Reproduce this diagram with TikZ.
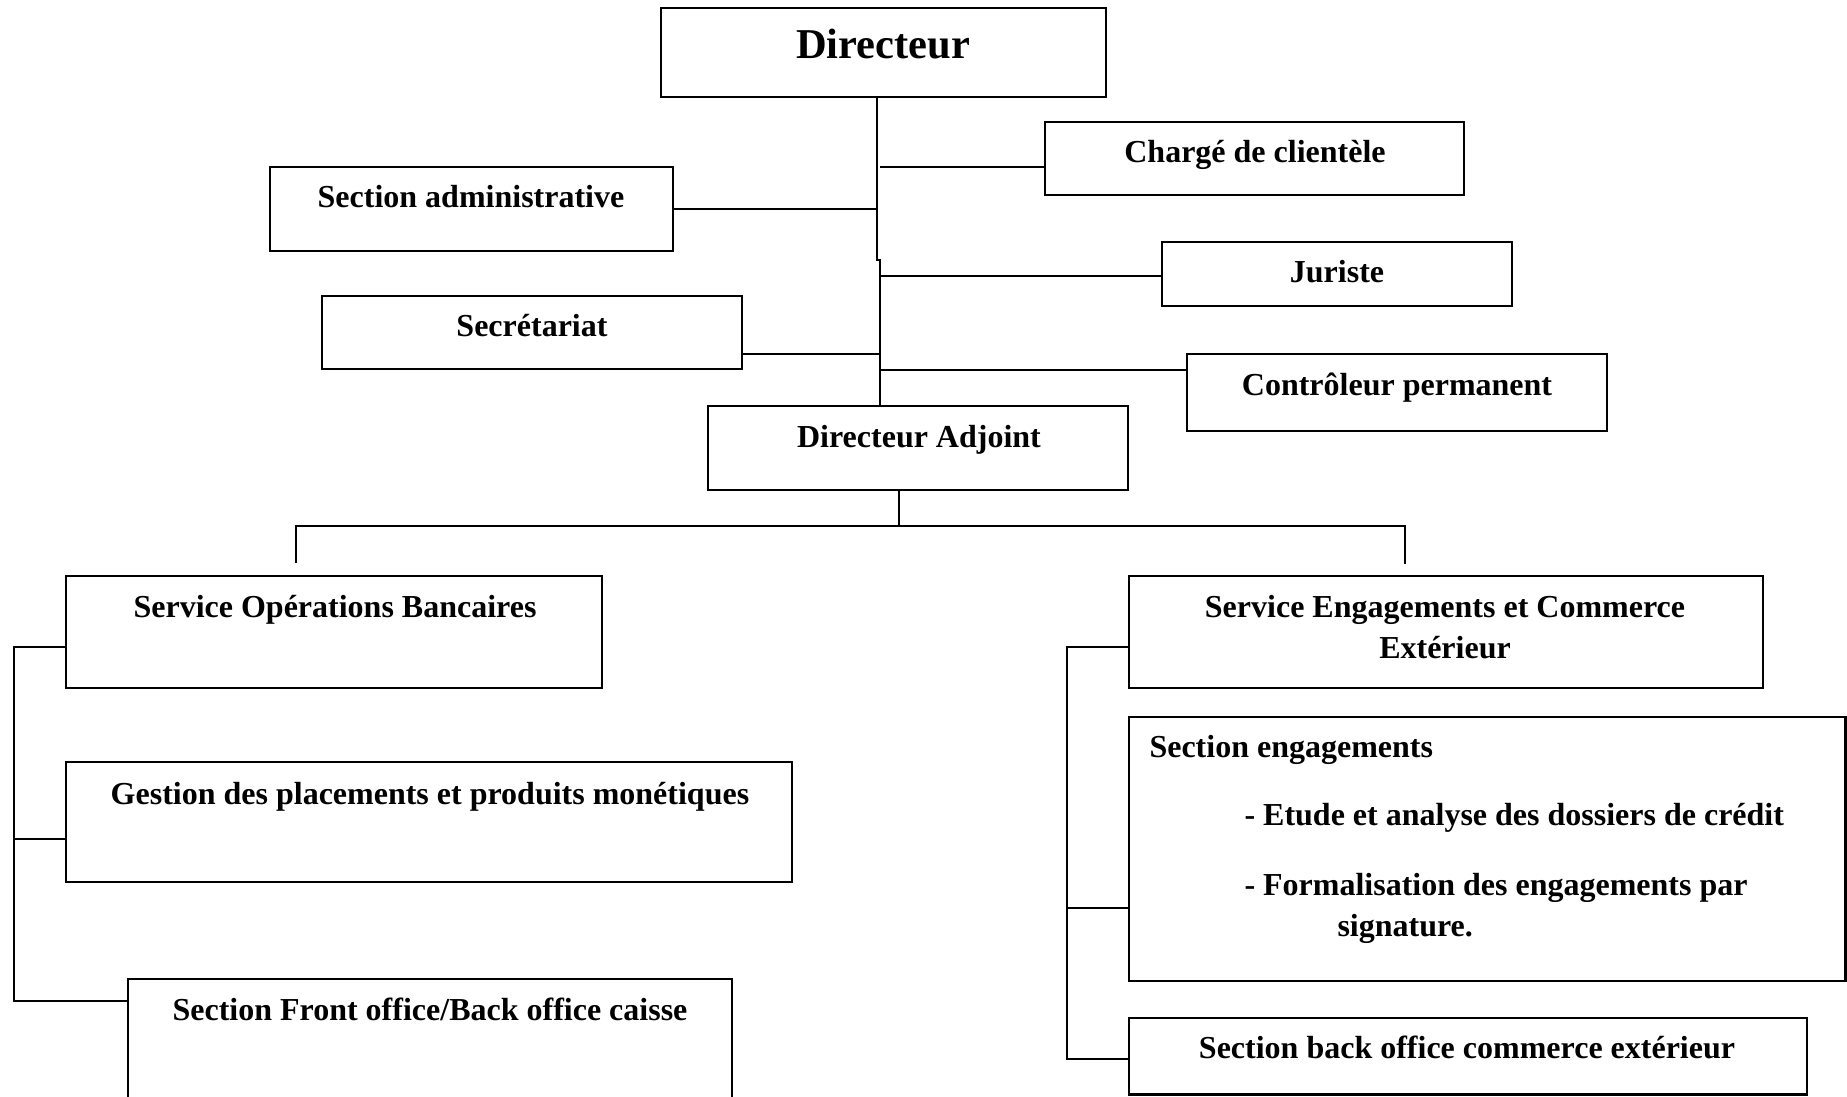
\documentclass[tikz,border=0pt]{standalone}
\usepackage{fontspec}
\setmainfont{Liberation Serif}
\usetikzlibrary{fit}
\begin{document}
\begin{tikzpicture}[x=0.4pt,y=-0.4pt,
  box/.style={draw, line width=1.05pt, inner sep=0pt},
  lab/.style={font=\bfseries\fontsize{12.8}{16.4}\selectfont, inner sep=0pt, anchor=base},
  labw/.style={lab, anchor=base west},
  link/.style={line width=0.8pt}]
\useasboundingbox (0,0) rectangle (1847,1096);
\clip (0,0) rectangle (1847,1096);

% ---- boxes ----
\node[box, fit={(661,8) (1106,97)}]      (dir)    {};
\node[box, fit={(1045,122) (1464,195)}]  (charge) {};
\node[box, fit={(270,167) (673,251)}]    (sa)     {};
\node[box, fit={(1162,242) (1512,306)}]  (jur)    {};
\node[box, fit={(322,296) (742,369)}]    (secr)   {};
\node[box, fit={(1187,354) (1607,431)}]  (ctrl)   {};
\node[box, fit={(708,406) (1128,490)}]   (da)     {};
\node[box, fit={(66,576) (602,688)}]     (sob)    {};
\node[box, fit={(66,762) (792,882)}]     (gest)   {};
\node[box, fit={(128,979) (732,1130)}]   (fo)     {};
\node[box, fit={(1129,576) (1763,688)}]  (sec)    {};
\node[box, fit={(1129,717) (1845.5,981)}] (seng)  {};
\node[box, fit={(1129,1018) (1807,1094.5)}] (sbo) {};

% ---- labels ----
\node[lab, font=\bfseries\fontsize{17}{20}\selectfont] (tdir) at (883,58) {Directeur};
\node[lab] (tcharge) at (1255,162) {Chargé de clientèle};
\node[lab] (tsa)     at (471,207)  {Section administrative};
\node[lab] (tjur)    at (1337,282) {Juriste};
\node[lab] (tsecr)   at (532,336)  {Secrétariat};
\node[lab] (tctrl)   at (1397,395) {Contrôleur permanent};
\node[lab] (tda)     at (919,447)  {Directeur Adjoint};
\node[lab] (tsob)    at (335,617)  {Service Opérations Bancaires};
\node[lab] (tsec1)   at (1445,617) {Service Engagements et Commerce};
\node[lab] (tsec2)   at (1445,658) {Extérieur};
\node[lab] (tgest)   at (430,804)  {Gestion des placements et produits monétiques};
\node[lab] (tfo)     at (430,1020) {Section Front office/Back office caisse};
\node[labw] (tseng)  at (1149,757) {Section engagements};
\node[labw] (tseng1) at (1244,825) {- Etude et analyse des dossiers de crédit};
\node[labw] (tseng2) at (1244,895) {- Formalisation des engagements par};
\node[labw] (tseng3) at (1337,936) {signature.};
\node[lab] (tsbo)    at (1467,1058) {Section back office commerce extérieur};

% ---- main trunk below the director ----
\coordinate (trTop) at (877,97);
\coordinate (jogA)  at (877,260);
\coordinate (jogB)  at (880,260);
\draw[link] (trTop) -- (jogA) -- (jogB) -- (jogB |- da.north);

\coordinate (bCh) at (880,167);
\coordinate (bJu) at (881,276);
\coordinate (bSe) at (880,354);
\coordinate (bCt) at (880,370);
\draw[link] (sa.east) -- (sa.east -| jogA);
\draw[link] (bCh) -- (bCh -| charge.west);
\draw[link] (bJu) -- (bJu -| jur.west);
\draw[link] (bSe) -- (bSe -| secr.east);
\draw[link] (bCt) -- (bCt -| ctrl.west);

% ---- bus below the deputy director ----
\coordinate (busM) at (899,526);
\coordinate (busL) at (296,526);
\coordinate (busR) at (1405,526);
\coordinate (dropL) at (296,563);
\coordinate (dropR) at (1405,564);
\draw[link] (busM |- da.south) -- (busM);
\draw[link] (dropL) -- (busL) -- (busR) -- (dropR);

% ---- left department bracket ----
\coordinate (lb1) at (14,647);
\coordinate (lb2) at (14,839);
\coordinate (lb3) at (14,1001);
\draw[link] (lb1 -| sob.west) -- (lb1) -- (lb3) -- (lb3 -| fo.west);
\draw[link] (lb2) -- (lb2 -| gest.west);

% ---- right department bracket ----
\coordinate (rb1) at (1067,647);
\coordinate (rb2) at (1067,908);
\coordinate (rb3) at (1067,1059);
\draw[link] (rb1 -| sec.west) -- (rb1) -- (rb3) -- (rb3 -| sbo.west);
\draw[link] (rb2) -- (rb2 -| seng.west);
\end{tikzpicture}
\end{document}
